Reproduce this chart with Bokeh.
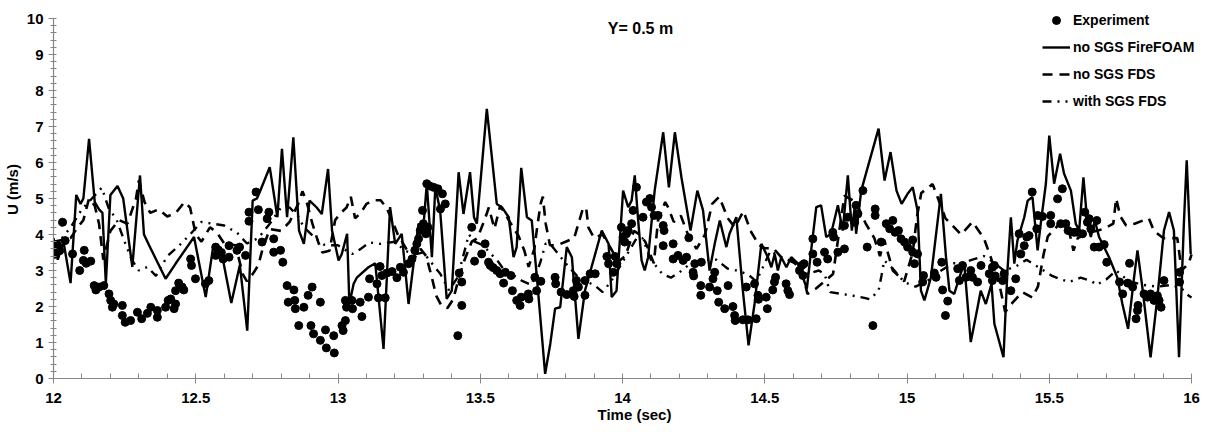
from bokeh.plotting import figure
from bokeh.models import (Range1d, SingleIntervalTicker, Legend, LegendItem, Label,
                          CustomJSTickFormatter)
from bokeh.embed import file_html
from bokeh.resources import INLINE

# ---------------- data ----------------
exp_t = [12.005, 12.014, 12.022, 12.032, 12.041, 12.067, 12.092, 12.105, 12.108, 12.115, 12.131,
         12.143, 12.149, 12.160, 12.177, 12.195, 12.201, 12.207, 12.212, 12.242, 12.242, 12.252,
         12.271, 12.295, 12.310, 12.330, 12.342, 12.365, 12.365, 12.394, 12.403, 12.412, 12.424,
         12.429, 12.429, 12.440, 12.452, 12.458, 12.482, 12.485, 12.499, 12.534, 12.546, 12.570,
         12.570, 12.580, 12.590, 12.596, 12.617, 12.617, 12.645, 12.654, 12.675, 12.687, 12.687,
         12.712, 12.720, 12.733, 12.751, 12.757, 12.774, 12.774, 12.798, 12.806, 12.821, 12.825,
         12.845, 12.848, 12.850, 12.880, 12.862, 12.895, 12.909, 12.905, 12.914, 12.938, 12.938,
         12.956, 12.959, 12.985, 12.987, 13.014, 13.018, 13.026, 13.026, 13.030, 13.049, 13.051,
         13.078, 13.084, 13.107, 13.111, 13.137, 13.142, 13.148, 13.154, 13.166, 13.172, 13.190,
         13.207, 13.219, 13.230, 13.248, 13.260, 13.270, 13.277, 13.283, 13.289, 13.297, 13.300,
         13.309, 13.312, 13.316, 13.322, 13.336, 13.351, 13.360, 13.367, 13.377, 13.421, 13.426,
         13.435, 13.435, 13.470, 13.480, 13.505, 13.517, 13.529, 13.535, 13.545, 13.558, 13.570,
         13.582, 13.588, 13.608, 13.613, 13.628, 13.640, 13.644, 13.669, 13.671, 13.692, 13.698,
         13.713, 13.763, 13.765, 13.784, 13.804, 13.827, 13.830, 13.838, 13.845, 13.868, 13.868,
         13.886, 13.904, 13.945, 13.951, 13.968, 13.974, 13.980, 13.996, 14.002, 14.008, 14.014,
         14.020, 14.032, 14.037, 14.049, 14.072, 14.084, 14.096, 14.102, 14.111, 14.125, 14.143,
         14.146, 14.143, 14.178, 14.178, 14.195, 14.213, 14.225, 14.233, 14.248, 14.250, 14.254,
         14.277, 14.275, 14.275, 14.306, 14.318, 14.324, 14.333, 14.338, 14.359, 14.371, 14.388,
         14.394, 14.396, 14.423, 14.435, 14.441, 14.464, 14.470, 14.476, 14.478, 14.505, 14.509,
         14.528, 14.534, 14.538, 14.575, 14.581, 14.587, 14.622, 14.630, 14.634, 14.638, 14.669,
         14.669, 14.684, 14.710, 14.721, 14.739, 14.742, 14.757, 14.780, 14.780, 14.792, 14.816,
         14.821, 14.827, 14.845, 14.860, 14.880, 14.888, 14.888, 14.909, 14.927, 14.939, 14.950,
         14.958, 14.970, 14.979, 14.991, 15.002, 15.020, 15.020, 15.026, 15.037, 15.058, 15.055,
         15.096, 15.102, 15.122, 15.125, 15.135, 15.143, 15.178, 15.184, 15.195, 15.207, 15.224,
         15.230, 15.248, 15.260, 15.289, 15.300, 15.300, 15.307, 15.310, 15.341, 15.336, 15.365,
         15.382, 15.394, 15.400, 15.412, 15.421, 15.429, 15.440, 15.456, 15.459, 15.476, 15.505,
         15.505, 15.529, 15.546, 15.540, 15.558, 15.566, 15.587, 15.599, 15.617, 15.625, 15.634,
         15.640, 15.646, 15.658, 15.667, 15.675, 15.693, 15.702, 15.747, 15.758, 15.776, 15.782,
         15.793, 15.810, 15.812, 15.805, 15.833, 15.845, 15.856, 15.868, 15.880, 15.886, 15.893,
         15.903, 15.958, 15.958]
exp_u = [3.45, 3.70, 3.55, 4.34, 3.83, 3.46, 3.00, 3.28, 3.56, 3.20, 3.26,
         2.58, 2.46, 2.54, 2.58, 2.35, 2.17, 1.98, 2.07, 2.03, 1.75, 1.56,
         1.61, 1.84, 1.66, 1.81, 1.98, 1.89, 1.70, 1.98, 2.17, 2.21, 1.94,
         2.07, 2.44, 2.65, 2.54, 2.46, 3.32, 3.14, 2.77, 2.63, 2.72, 3.42,
         3.65, 3.55, 3.50, 3.32, 3.69, 3.37, 3.56, 3.65, 3.42, 4.62, 4.37,
         5.18, 4.69, 3.79, 4.44, 4.62, 3.88, 3.51, 3.56, 3.23, 2.58, 2.12,
         2.46, 2.17, 1.94, 1.98, 1.47, 2.31, 2.54, 1.47, 1.24, 2.12, 1.06,
         1.35, 0.85, 1.19, 0.71, 1.47, 1.33, 1.61, 2.17, 1.98, 2.17, 1.94,
         2.12, 1.72, 2.26, 2.77, 2.63, 2.24, 3.11, 2.86, 2.24, 2.93, 2.97,
         2.80, 3.09, 2.95, 3.19, 3.32, 3.56, 3.74, 3.88, 4.11, 4.67, 4.30,
         4.02, 5.41, 4.20, 5.35, 5.31, 5.27, 4.71, 5.13, 4.85, 1.19, 2.93,
         2.68, 2.03, 4.20, 3.26, 3.46, 3.74, 3.23, 3.14, 3.08, 3.00, 2.91,
         2.65, 2.95, 2.86, 2.44, 2.17, 2.03, 2.26, 2.35, 2.21, 2.81, 2.44,
         2.70, 2.81, 2.63, 2.40, 2.33, 2.44, 2.28, 2.72, 2.54, 2.31, 2.72,
         2.91, 2.91, 3.39, 3.19, 2.95, 3.39, 3.19, 4.20, 3.93, 3.79, 4.02,
         4.11, 4.30, 4.67, 5.31, 4.48, 4.90, 5.00, 4.76, 4.53, 4.53, 4.25,
         4.11, 3.69, 3.74, 3.32, 3.42, 3.28, 3.37, 3.91, 2.95, 2.85, 3.19,
         3.23, 2.58, 2.31, 2.54, 2.77, 2.95, 2.44, 2.12, 1.94, 2.58, 2.00,
         1.75, 1.61, 1.63, 2.54, 1.63, 2.63, 1.66, 2.31, 2.20, 2.26, 1.94,
         2.46, 2.68, 2.81, 2.63, 2.44, 2.33, 3.00, 3.14, 2.86, 3.19, 3.88,
         3.46, 3.23, 3.51, 3.32, 4.06, 3.93, 3.51, 3.60, 4.25, 4.48, 4.34,
         4.81, 4.57, 5.22, 3.65, 1.47, 4.71, 4.53, 3.79, 4.30, 4.16, 4.39,
         4.06, 4.11, 3.88, 3.79, 3.65, 3.85, 3.51, 3.19, 3.46, 2.86, 2.68,
         2.93, 2.81, 3.23, 2.46, 1.75, 2.15, 3.05, 2.72, 3.14, 2.81, 3.00,
         2.81, 2.68, 3.14, 2.91, 3.09, 2.72, 3.14, 2.85, 2.91, 2.72, 2.44,
         2.77, 4.02, 3.46, 3.69, 3.93, 3.97, 5.18, 4.16, 4.53, 4.50, 4.53,
         4.30, 4.99, 5.27, 4.30, 4.30, 4.11, 4.06, 4.06, 4.02, 4.62, 4.34,
         4.44, 4.16, 3.65, 4.39, 3.65, 3.72, 3.23, 2.68, 2.35, 2.65, 3.20,
         2.54, 1.89, 2.03, 1.66, 2.35, 2.26, 2.35, 2.17, 2.30, 2.17, 1.98,
         2.72, 2.95, 2.68]

foam_t = [12.000, 12.015, 12.035, 12.060, 12.080, 12.095, 12.105, 12.125, 12.145, 12.160, 12.172,
          12.184, 12.200, 12.225, 12.245, 12.277, 12.304, 12.318, 12.336, 12.394, 12.430, 12.494,
          12.535, 12.560, 12.587, 12.625, 12.655, 12.681, 12.700, 12.715, 12.726, 12.760, 12.787,
          12.803, 12.821, 12.843, 12.863, 12.880, 12.900, 12.925, 12.943, 12.965, 12.979, 13.002,
          13.013, 13.032, 13.040, 13.055, 13.066, 13.107, 13.131, 13.160, 13.183, 13.201, 13.224,
          13.248, 13.283, 13.300, 13.312, 13.330, 13.342, 13.359, 13.382, 13.400, 13.424, 13.441,
          13.464, 13.478, 13.488, 13.523, 13.558, 13.576, 13.600, 13.617, 13.628, 13.644, 13.664,
          13.681, 13.699, 13.728, 13.746, 13.763, 13.781, 13.804, 13.822, 13.845, 13.868, 13.904,
          13.927, 13.951, 13.962, 13.979, 14.002, 14.020, 14.032, 14.043, 14.055, 14.067, 14.078,
          14.090, 14.113, 14.143, 14.163, 14.184, 14.207, 14.239, 14.263, 14.283, 14.306, 14.324,
          14.342, 14.365, 14.376, 14.400, 14.423, 14.443, 14.464, 14.488, 14.511, 14.523, 14.535,
          14.546, 14.558, 14.576, 14.593, 14.617, 14.634, 14.648, 14.663, 14.681, 14.698, 14.716,
          14.733, 14.757, 14.774, 14.792, 14.806, 14.816, 14.821, 14.839, 14.862, 14.900, 14.921,
          14.942, 14.963, 14.981, 15.002, 15.020, 15.037, 15.049, 15.061, 15.084, 15.119, 15.137,
          15.149, 15.166, 15.184, 15.201, 15.224, 15.248, 15.259, 15.277, 15.297, 15.307, 15.339,
          15.353, 15.365, 15.377, 15.388, 15.412, 15.424, 15.441, 15.459, 15.470, 15.488, 15.500,
          15.517, 15.538, 15.552, 15.576, 15.593, 15.605, 15.620, 15.634, 15.646, 15.660, 15.675,
          15.710, 15.739, 15.757, 15.777, 15.798, 15.810, 15.827, 15.856, 15.880, 15.903, 15.921,
          15.938, 15.956, 15.973, 15.983, 15.997]
foam_u = [3.90, 3.30, 3.80, 2.65, 5.10, 4.85, 5.00, 6.66, 4.90, 4.70, 4.60,
          2.65, 5.10, 5.35, 5.00, 3.10, 5.64, 4.00, 3.70, 2.77, 3.20, 3.93,
          2.26, 3.60, 3.65, 2.10, 3.15, 1.33, 4.94, 5.00, 5.20, 5.87, 4.48,
          6.38, 4.48, 6.70, 4.11, 3.74, 4.94, 4.75, 4.57, 5.82, 4.11, 3.28,
          3.45, 4.02, 2.07, 2.63, 2.80, 3.09, 3.20, 0.82, 4.76, 3.74, 4.02,
          2.07, 4.30, 4.20, 5.41, 3.37, 5.31, 4.67, 2.21, 2.44, 5.73, 4.57,
          5.73, 4.48, 4.30, 7.49, 4.85, 4.76, 4.48, 3.37, 3.65, 5.85, 4.48,
          4.39, 2.81, 0.13, 0.96, 1.94, 1.98, 3.65, 3.37, 1.10, 2.44, 3.46,
          4.11, 3.74, 2.26, 2.44, 5.22, 4.76, 4.94, 5.64, 4.39, 3.28, 3.00,
          3.37, 5.22, 6.84, 5.31, 6.84, 5.59, 4.11, 5.22, 4.67, 3.00, 3.74,
          4.39, 3.65, 4.02, 4.48, 2.44, 0.92, 2.07, 3.74, 3.37, 3.09, 3.46,
          3.00, 3.37, 3.09, 3.37, 3.19, 2.81, 2.50, 3.56, 4.76, 4.81, 3.93,
          4.02, 4.81, 4.11, 5.64, 4.11, 4.76, 4.02, 5.22, 5.87, 6.94, 5.50,
          6.29, 5.22, 4.85, 5.13, 5.31, 4.67, 2.44, 2.17, 2.81, 5.13, 3.37,
          2.44, 2.35, 2.81, 3.19, 1.01, 1.98, 2.44, 2.07, 2.63, 1.52, 0.59,
          3.00, 4.48, 3.19, 3.83, 4.48, 4.94, 5.04, 3.56, 4.30, 5.41, 6.75,
          5.41, 6.24, 5.69, 5.22, 4.30, 4.11, 5.59, 4.30, 3.93, 4.39, 3.93,
          3.37, 2.81, 2.07, 1.38, 2.81, 3.56, 2.54, 0.59, 2.26, 4.11, 4.62,
          4.11, 0.59, 4.30, 6.06, 3.46]

fds_t = [12.000, 12.030, 12.060, 12.085, 12.105, 12.125, 12.145, 12.160, 12.175, 12.200, 12.230,
         12.260, 12.290, 12.300, 12.320, 12.340, 12.370, 12.400, 12.430, 12.460, 12.480, 12.500,
         12.520, 12.550, 12.575, 12.600, 12.640, 12.665, 12.680, 12.700, 12.720, 12.735, 12.760,
         12.800, 12.830, 12.860, 12.875, 12.890, 12.910, 12.930, 12.945, 12.970, 12.990, 13.010,
         13.030, 13.045, 13.060, 13.080, 13.100, 13.125, 13.150, 13.170, 13.190, 13.210, 13.240,
         13.265, 13.290, 13.310, 13.330, 13.345, 13.365, 13.385, 13.405, 13.425, 13.445, 13.470,
         13.490, 13.515, 13.530, 13.550, 13.570, 13.600, 13.635, 13.655, 13.670, 13.690, 13.700,
         13.712, 13.720, 13.730, 13.745, 13.770, 13.800, 13.830, 13.860, 13.872, 13.880, 13.900,
         13.930, 13.960, 13.985, 14.010, 14.040, 14.060, 14.080, 14.110, 14.125, 14.150, 14.160,
         14.180, 14.205, 14.230, 14.260, 14.290, 14.315, 14.340, 14.370, 14.395, 14.425, 14.450,
         14.480, 14.500, 14.530, 14.560, 14.600, 14.630, 14.650, 14.680, 14.710, 14.740, 14.760,
         14.780, 14.820, 14.855, 14.885, 14.905, 14.920, 14.950, 14.990, 15.020, 15.035, 15.050,
         15.090, 15.135, 15.160, 15.190, 15.230, 15.270, 15.295, 15.325, 15.345, 15.370, 15.405,
         15.440, 15.460, 15.480, 15.495, 15.530, 15.565, 15.585, 15.600, 15.640, 15.690, 15.725,
         15.735, 15.750, 15.770, 15.800, 15.850, 15.868, 15.900, 15.950, 15.965, 15.990, 16.000]
fds_u = [3.80, 3.85, 3.90, 4.20, 4.40, 5.00, 4.80, 4.30, 3.30, 4.10, 4.40,
         4.30, 5.00, 5.50, 4.90, 4.60, 4.70, 4.50, 4.60, 4.90, 4.75, 4.00,
         3.80, 4.20, 4.05, 3.75, 3.70, 2.90, 2.70, 2.90, 3.15, 3.60, 4.15,
         4.10, 4.35, 4.85, 5.20, 4.90, 4.30, 3.80, 3.50, 3.55, 4.40, 4.60,
         4.75, 5.05, 4.45, 4.60, 4.85, 4.95, 4.95, 4.75, 4.40, 4.00, 3.60,
         3.30, 3.60, 3.40, 2.80, 2.30, 2.00, 1.96, 2.20, 2.80, 3.30, 3.80,
         3.90, 4.40, 4.75, 4.16, 4.80, 4.40, 3.95, 3.55, 3.10, 3.60, 4.20,
         4.85, 5.05, 4.30, 3.70, 3.70, 3.80, 3.90, 4.70, 4.75, 4.20, 3.90,
         4.00, 3.60, 3.25, 3.40, 4.10, 4.00, 3.80, 3.20, 4.40, 4.90, 4.76,
         4.35, 4.52, 4.00, 3.60, 4.00, 4.85, 5.05, 4.45, 4.20, 4.65, 4.10,
         3.70, 3.62, 3.62, 3.35, 3.25, 3.00, 2.35, 2.50, 2.70, 2.90, 4.00,
         5.08, 4.90, 4.30, 3.90, 3.40, 3.85, 3.00, 2.70, 3.50, 4.50, 5.15,
         5.40, 4.45, 4.25, 4.00, 4.35, 3.90, 3.35, 2.60, 1.85, 2.10, 2.40,
         2.25, 2.55, 3.45, 3.95, 4.25, 4.25, 3.55, 3.90, 4.05, 4.15, 4.30,
         5.00, 4.50, 4.25, 4.30, 4.45, 4.10, 3.90, 3.90, 3.00, 3.20, 3.45]

sgs_t = [12.000, 12.030, 12.060, 12.100, 12.135, 12.170, 12.195, 12.220, 12.250, 12.275, 12.300,
         12.330, 12.360, 12.400, 12.440, 12.480, 12.520, 12.560, 12.600, 12.645, 12.680, 12.720,
         12.760, 12.800, 12.830, 12.860, 12.880, 12.920, 12.950, 12.980, 13.000, 13.030, 13.050,
         13.080, 13.110, 13.150, 13.200, 13.235, 13.270, 13.300, 13.330, 13.360, 13.390, 13.420,
         13.460, 13.480, 13.510, 13.535, 13.560, 13.585, 13.620, 13.645, 13.680, 13.710, 13.730,
         13.750, 13.770, 13.800, 13.840, 13.870, 13.900, 13.930, 13.960, 13.990, 14.020, 14.050,
         14.070, 14.100, 14.140, 14.170, 14.200, 14.240, 14.280, 14.330, 14.370, 14.400, 14.440,
         14.470, 14.500, 14.520, 14.550, 14.580, 14.620, 14.650, 14.690, 14.710, 14.730, 14.770,
         14.810, 14.850, 14.870, 14.900, 14.910, 14.920, 14.950, 14.990, 15.030, 15.070, 15.110,
         15.160, 15.190, 15.230, 15.270, 15.300, 15.340, 15.380, 15.420, 15.460, 15.510, 15.535,
         15.570, 15.610, 15.650, 15.665, 15.700, 15.735, 15.780, 15.830, 15.880, 15.930, 15.965,
         15.990, 16.000]
sgs_u = [3.55, 3.90, 4.20, 4.70, 5.00, 5.30, 4.70, 4.45, 3.80, 3.30, 3.00,
         3.10, 2.85, 3.40, 3.68, 4.00, 4.35, 4.30, 4.25, 4.05, 3.75, 3.90,
         4.30, 4.75, 4.75, 4.50, 4.20, 3.90, 3.72, 3.70, 3.70, 3.55, 3.46,
         3.60, 3.78, 3.74, 3.80, 3.55, 3.45, 3.50, 3.20, 2.90, 2.45, 2.80,
         4.00, 3.80, 3.70, 3.48, 3.28, 3.00, 2.85, 2.72, 2.60, 3.20, 3.75,
         3.70, 3.50, 3.20, 2.85, 2.70, 2.60, 2.40, 2.70, 3.10, 3.50, 3.90,
         3.90, 3.30, 2.90, 2.80, 2.95, 3.20, 3.30, 3.30, 3.05, 3.00, 2.90,
         2.70, 3.20, 3.55, 3.40, 3.30, 3.15, 2.90, 3.00, 2.90, 2.40, 2.35,
         2.30, 2.24, 2.20, 2.44, 2.85, 3.28, 3.05, 2.68, 2.55, 2.70, 2.95,
         3.20, 3.20, 3.30, 3.40, 3.25, 3.00, 3.10, 3.30, 3.10, 2.85, 2.77,
         2.68, 2.80, 2.70, 2.60, 2.75, 3.00, 2.70, 2.60, 2.55, 2.60, 2.50,
         2.30, 2.25]

x_ticks_interval = 0.5
y_ticks_interval = 1
title_text = "Y= 0.5 m"
x_label = "Time (sec)"
y_label = "U (m/s)"
series_names = ["Experiment", "no SGS FireFOAM", "no SGS FDS", "with SGS FDS"]

# ---------------- figure ----------------
FONT = "Liberation Sans"
# frame extends to the canvas top/right so the legend is not clipped; axes bounded to data span
p = figure(width=1215, height=432, x_range=Range1d(12, 16 + 24 / 285), y_range=Range1d(0, 10.5),
           output_backend="svg", toolbar_location=None,
           min_border_left=51, min_border_right=0, min_border_top=0, min_border_bottom=54)
p.outline_line_color = None
p.grid.visible = False
p.background_fill_color = "white"
p.border_fill_color = "white"

r_foam = p.line(foam_t, foam_u, line_color="black", line_width=2.4)
r_fds = p.line(fds_t, fds_u, line_color="black", line_width=2.6, line_dash="10 7")
r_sgs = p.line(sgs_t, sgs_u, line_color="black", line_width=2.4, line_dash="9 6 2 6 2 6")
r_exp = p.scatter(exp_t, exp_u, size=8, marker="circle", fill_color="black", line_color="black")

for ax in (p.xaxis[0], p.yaxis[0]):
    ax.axis_line_color = "#868686"
    ax.major_tick_line_color = "#868686"
    ax.minor_tick_line_color = "#868686"
    ax.axis_line_width = 1.2
    ax.major_label_text_font = FONT
    ax.major_label_text_font_style = "bold"
    ax.major_label_text_font_size = "15px"
    ax.major_label_text_color = "black"
    ax.axis_label_text_font = FONT
    ax.axis_label_text_font_style = "bold"
    ax.axis_label_text_font_size = "15px"
    ax.axis_label_text_color = "black"
    ax.formatter = CustomJSTickFormatter(code="return String(Math.round(tick*10)/10);")

p.xaxis.bounds = (12, 16)
p.yaxis.bounds = (0, 10)
p.xaxis.ticker = SingleIntervalTicker(interval=x_ticks_interval, num_minor_ticks=5)
p.yaxis.ticker = SingleIntervalTicker(interval=y_ticks_interval, num_minor_ticks=5)
p.xaxis.axis_label = x_label
p.yaxis.axis_label = y_label
p.xaxis.major_tick_out = 5
p.xaxis.major_tick_in = 3
p.xaxis.minor_tick_in = 5
p.xaxis.minor_tick_out = 0
p.xaxis.major_label_standoff = 9
p.xaxis.axis_label_standoff = 0
p.yaxis.major_tick_out = 5
p.yaxis.major_tick_in = 0
p.yaxis.minor_tick_in = 3
p.yaxis.minor_tick_out = 3
p.yaxis.major_label_standoff = 5
p.yaxis.axis_label_standoff = 3

p.add_layout(Label(x=587, y=350, x_units="screen", y_units="screen", text=title_text,
                   text_font=FONT, text_font_style="bold", text_font_size="16px",
                   text_align="center", text_baseline="middle", text_color="black"))

legend = Legend(items=[LegendItem(label=series_names[0], renderers=[r_exp]),
                       LegendItem(label=series_names[1], renderers=[r_foam]),
                       LegendItem(label=series_names[2], renderers=[r_fds]),
                       LegendItem(label=series_names[3], renderers=[r_sgs])],
                location=(989, 267), padding=0, margin=0, spacing=7,
                glyph_width=28, glyph_height=20, label_height=20, label_standoff=3,
                label_text_font=FONT, label_text_font_style="bold", label_text_font_size="14px",
                label_text_color="black", border_line_color=None, background_fill_alpha=0)
p.add_layout(legend, "center")

open("out.html", "w").write(file_html(p, INLINE))
